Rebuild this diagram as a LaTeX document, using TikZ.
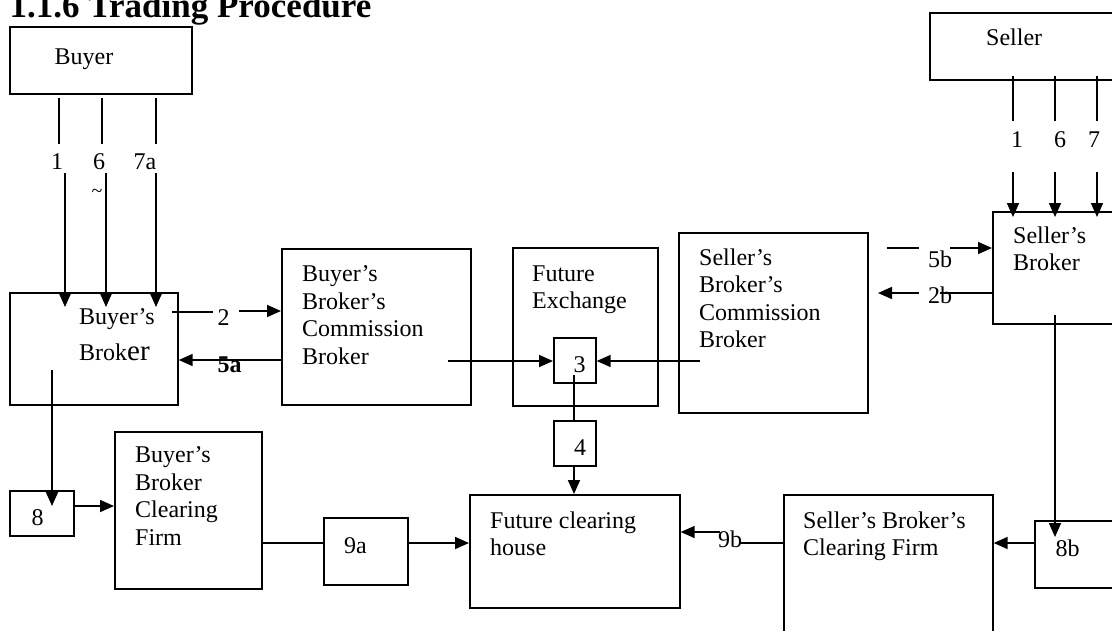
\documentclass[tikz,border=0pt]{standalone}
\usepackage{fontspec}
\setmainfont{Liberation Serif}
\usetikzlibrary{arrows.meta}
\newcommand\dgBody{\fontsize{24}{27.5}\selectfont}
\begin{document}
\begin{tikzpicture}[x=1pt,y=-1pt,
  box/.style={draw,line width=1.7pt,inner sep=0pt,anchor=north west},
  txt/.style={inner sep=0pt,font=\dgBody,align=left,anchor=north west},
  lbl/.style={inner sep=0pt,font=\dgBody,anchor=base},
  ln/.style={line width=1.7pt},
  arr/.style={line width=1.7pt,-{Triangle[length=14pt,width=12pt]}}]
\useasboundingbox (0,0) rectangle (1112,630);
\clip (0,0) rectangle (1112,630);

% title
\node[inner sep=0pt,anchor=base west,font=\fontsize{35}{40}\selectfont\bfseries] (title) at (9.5,17) {1.1.6 Trading Procedure};

% boxes
\node[box,minimum width=182pt,minimum height=67pt] (buyer) at (9,26) {};
\node[box,minimum width=168pt,minimum height=112pt] (bbroker) at (9,292) {};
\node[box,minimum width=189pt,minimum height=156pt] (bbcomm) at (281,248) {};
\node[box,minimum width=145pt,minimum height=158pt] (fex) at (512,247) {};
\node[box,minimum width=42pt,minimum height=45pt] (box3) at (553,337) {};
\node[box,minimum width=189pt,minimum height=180pt] (sbcomm) at (678,232) {};
\node[box,minimum width=220pt,minimum height=67pt] (seller) at (929,12) {};
\node[box,minimum width=160pt,minimum height=112pt] (sbroker) at (992,211) {};
\node[box,minimum width=42pt,minimum height=45pt] (box4) at (553,420) {};
\node[box,minimum width=210pt,minimum height=113pt] (fch) at (469,494) {};
\node[box,minimum width=209pt,minimum height=160pt] (sbcf) at (783,494) {};
\node[box,minimum width=120pt,minimum height=67pt] (box8b) at (1034,520) {};
\node[box,minimum width=64pt,minimum height=45pt] (box8) at (9,490) {};
\node[box,minimum width=147pt,minimum height=157pt] (bbcf) at (114,431) {};
\node[box,minimum width=84pt,minimum height=67pt] (box9a) at (323,517) {};

% box texts
\node[inner sep=0pt,font=\dgBody,anchor=base west] (tbuyer) at (54.5,64) {Buyer};
\node[inner sep=0pt,font=\dgBody,anchor=base west] (tseller) at (986,45) {Seller};
\node[txt] (tbb) at (79,308.8) {Buyer’s\\[8.5pt]Brok{\fontsize{29}{30}\selectfont er}};
\node[txt] (tbbc) at (302,265.8) {Buyer’s\\Broker’s\\Commission\\Broker};
\node[txt] (tfex) at (532,265.1) {Future\\Exchange};
\node[txt] (tsbc) at (699,248.6) {Seller’s\\Broker’s\\Commission\\Broker};
\node[txt] (tsb) at (1013,226.6) {Seller’s\\Broker};
\node[txt] (tfch) at (490,511.6) {Future clearing\\house};
\node[txt] (tsbcf) at (803,511.6) {Seller’s Broker’s\\Clearing Firm};
\node[txt] (tbbcf) at (135,446.8) {Buyer’s\\Broker\\Clearing\\Firm};
\node[lbl] (t3) at (579.5,372) {3};
\node[lbl] (t4) at (580,455) {4};
\node[lbl] (t8) at (37.5,525) {8};
\node[lbl] (t8b) at (1067.5,556) {8b};
\node[lbl] (t9a) at (355.5,553) {9a};

% connector labels
\node[lbl] (lb1) at (57,169) {1};
\node[lbl] (lb6) at (99,169) {6};
\node[lbl] (lb7a) at (145,169) {7a};
\node[inner sep=0pt,font=\fontsize{20}{20}\selectfont] (tilde) at (97,193) {\textasciitilde};
\node[lbl] (ls1) at (1017,147) {1};
\node[lbl] (ls6) at (1060,147) {6};
\node[lbl] (ls7) at (1094,147) {7};
\node[lbl] (l2) at (223.5,325) {2};
\node[lbl,font=\dgBody\bfseries] (l5a) at (229.5,372) {5a};
\node[lbl] (l5b) at (940,267) {5b};
\node[lbl] (l2b) at (940,303) {2b};
\node[lbl] (l9b) at (730,547) {9b};

% coordinates for broken connectors
\coordinate (bA1) at (59,98);  \coordinate (bA2) at (59,144);
\coordinate (bB1) at (102,98); \coordinate (bB2) at (102,144);
\coordinate (bC1) at (156,98); \coordinate (bC2) at (156,144);
\coordinate (bA3) at (65,173);  \coordinate (bA4) at (65,307);
\coordinate (bB3) at (106,173); \coordinate (bB4) at (106,307);
\coordinate (bC3) at (156,173); \coordinate (bC4) at (156,307);
\coordinate (sA1) at (1013,76);  \coordinate (sA2) at (1013,121);
\coordinate (sB1) at (1055,76);  \coordinate (sB2) at (1055,121);
\coordinate (sC1) at (1097,76);  \coordinate (sC2) at (1097,121);
\coordinate (sA3) at (1013,172); \coordinate (sA4) at (1013,217);
\coordinate (sB3) at (1055,172); \coordinate (sB4) at (1055,217);
\coordinate (sC3) at (1097,172); \coordinate (sC4) at (1097,217);

\draw[ln] (bA1) -- (bA2); \draw[ln] (bB1) -- (bB2); \draw[ln] (bC1) -- (bC2);
\draw[arr] (bA3) -- (bA4); \draw[arr] (bB3) -- (bB4); \draw[arr] (bC3) -- (bC4);
\draw[ln] (sA1) -- (sA2); \draw[ln] (sB1) -- (sB2); \draw[ln] (sC1) -- (sC2);
\draw[arr] (sA3) -- (sA4); \draw[arr] (sB3) -- (sB4); \draw[arr] (sC3) -- (sC4);

% 2 : buyer's broker -> commission broker
\coordinate (c2a) at (172,312); \coordinate (c2b) at (213,312);
\coordinate (c2c) at (239,311);
\draw[ln] (c2a) -- (c2b);
\draw[arr] (c2c) -- (c2c -| bbcomm.west);
% 5a
\coordinate (c5a) at (281,360);
\draw[arr] (c5a) -- (c5a -| bbroker.east);
% commission brokers -> 3
\coordinate (c3l) at (448,361); \coordinate (c3r) at (700,361);
\draw[arr] (c3l) -- (c3l -| box3.west);
\draw[arr] (c3r) -- (c3r -| box3.east);
% 3 -> 4 -> clearing house
\coordinate (c34) at (574,375);
\draw[ln] (c34) -- (c34 |- box4.north);
\coordinate (c4f) at (574,465);
\draw[arr] (c4f) -- (c4f |- fch.north);
% 5b and 2b
\coordinate (c5b1) at (887,248); \coordinate (c5b2) at (919,248);
\coordinate (c5b3) at (950,248);
\draw[ln] (c5b1) -- (c5b2);
\draw[arr] (c5b3) -- (c5b3 -| sbroker.west);
\coordinate (c2b1) at (992,293); \coordinate (c2b2) at (940,293);
\coordinate (c2b3) at (919,293); \coordinate (c2b4) at (878,293);
\draw[ln] (c2b1) -- (c2b2);
\draw[arr] (c2b3) -- (c2b4);
% seller's broker -> 8b -> clearing firm
\coordinate (c8b1) at (1055,315); \coordinate (c8b2) at (1055,537);
\draw[arr] (c8b1) -- (c8b2);
\coordinate (c8b3) at (1034,543);
\draw[arr] (c8b3) -- (c8b3 -| sbcf.east);
% 9b
\coordinate (c9b1) at (783,543); \coordinate (c9b2) at (740,543);
\coordinate (c9b3) at (720,532);
\draw[ln] (c9b1) -- (c9b2);
\draw[arr] (c9b3) -- (c9b3 -| fch.east);
% buyer's broker -> 8 -> clearing firm
\coordinate (c81) at (52,370); \coordinate (c82) at (52,506);
\draw[arr] (c81) -- (c82);
\coordinate (c83) at (73,506);
\draw[arr] (c83) -- (c83 -| bbcf.west);
% clearing firm -> 9a -> clearing house
\coordinate (c9a1) at (261,543);
\draw[ln] (c9a1) -- (c9a1 -| box9a.west);
\coordinate (c9a2) at (407,543);
\draw[arr] (c9a2) -- (c9a2 -| fch.west);
\end{tikzpicture}
\end{document}
